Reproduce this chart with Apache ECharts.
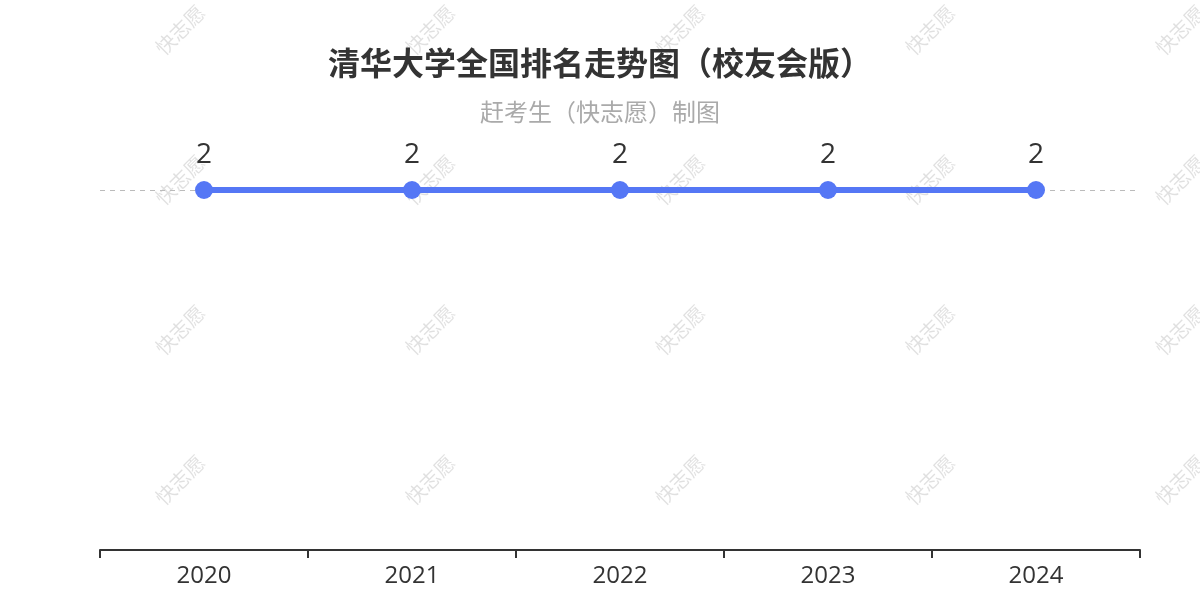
<!DOCTYPE html>
<html>
<head>
<meta charset="utf-8">
<script src="https://cdn.jsdelivr.net/npm/echarts@6/dist/echarts.min.js"></script>
<style>
html,body{margin:0;padding:0;background:#fff;}
#chart{width:1200px;height:600px;}
</style>
</head>
<body>
<div id="chart"></div>
<script>
var titleText = '清华大学全国排名走势图（校友会版）';
var subtitleText = '赶考生（快志愿）制图';
var years = ['2020', '2021', '2022', '2023', '2024'];
var ranks = [2, 2, 2, 2, 2];
var watermarkText = '快志愿';

var FONT = '"Noto Sans CJK SC", "Noto Sans", sans-serif';

var marks = [];
for (var i = 0; i < 5; i++) {
  for (var j = 0; j < 4; j++) {
    marks.push({
      type: 'text',
      x: 180 + i * 250,
      y: 30 + j * 150,
      rotation: Math.PI / 4,
      z: -10,
      silent: true,
      style: {
        text: watermarkText,
        fill: 'rgba(0,0,0,0.12)',
        font: '20px ' + FONT,
        align: 'center',
        verticalAlign: 'middle'
      }
    });
  }
}

var chart = echarts.init(document.getElementById('chart'));
chart.setOption({
  backgroundColor: '#fff',
  animation: false,
  graphic: marks,
  title: {
    text: titleText,
    subtext: subtitleText,
    left: 'center',
    top: 42,
    itemGap: 21,
    textStyle: { fontSize: 32, fontWeight: 'bold', color: '#333', fontFamily: FONT },
    subtextStyle: { fontSize: 24, color: '#aaa', fontFamily: FONT }
  },
  grid: { left: 100, right: 60, top: 190, bottom: 50 },
  xAxis: {
    type: 'category',
    data: years,
    boundaryGap: true,
    axisLine: { lineStyle: { color: '#333', width: 2 } },
    axisTick: { show: true, length: 8, lineStyle: { color: '#333', width: 2 } },
    axisLabel: { fontSize: 24, color: '#333', margin: 14, fontFamily: '"Open Sans", "Noto Sans", sans-serif' }
  },
  yAxis: {
    type: 'value',
    inverse: true,
    min: 2,
    max: 3,
    interval: 1,
    axisLine: { show: false },
    axisTick: { show: false },
    axisLabel: { show: false },
    splitLine: { show: true, lineStyle: { color: '#bbb', type: [5, 5], width: 1 } }
  },
  series: [{
    type: 'line',
    data: ranks,
    symbol: 'circle',
    symbolSize: 18,
    itemStyle: { color: '#5577f5' },
    lineStyle: { color: '#5577f5', width: 6 },
    label: {
      show: true,
      position: 'top',
      distance: 12,
      fontSize: 28,
      color: '#333',
      fontFamily: '"Open Sans", "Noto Sans", sans-serif'
    }
  }]
});
</script>
</body>
</html>
